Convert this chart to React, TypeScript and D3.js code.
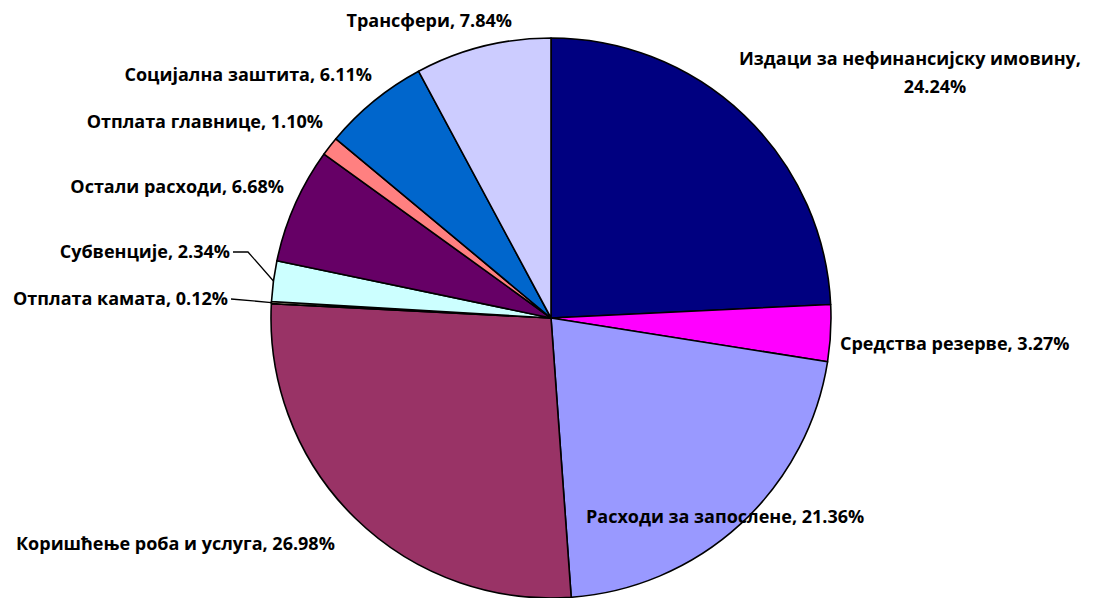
import React, { useEffect, useRef } from 'react';
import * as d3 from 'd3';

// categories clockwise from 12 o'clock
const categories = [
  'Издаци за нефинансијску имовину',
  'Средства резерве',
  'Расходи за запослене',
  'Коришћење роба и услуга',
  'Отплата камата',
  'Субвенције',
  'Остали расходи',
  'Отплата главнице',
  'Социјална заштита',
  'Трансфери',
];
const shares = [24.24, 3.27, 21.36, 26.98, 0.12, 2.34, 6.68, 1.1, 6.11, 7.84];
const colors = [
  '#000080', '#FF00FF', '#9999FF', '#993366', '#FFFFCC',
  '#CCFFFF', '#660066', '#FF8080', '#0066CC', '#CCCCFF',
];

// label placement: [x, y, anchor, leader]
const labelPos: Record<string, [number, number, string, boolean]> = {
  'Издаци за нефинансијску имовину': [910, 65, 'middle', false],
  'Средства резерве': [840, 350, 'start', false],
  'Расходи за запослене': [586, 523, 'start', false],
  'Коришћење роба и услуга': [16, 550, 'start', false],
  'Отплата камата': [228, 305, 'end', true],
  'Субвенције': [230, 258, 'end', true],
  'Остали расходи': [284, 193, 'end', false],
  'Отплата главнице': [323, 128, 'end', false],
  'Социјална заштита': [372, 81, 'end', false],
  'Трансфери': [512, 27, 'end', false],
};

const W = 1094;
const H = 598;

const App = () => {
  const svgRef = useRef<SVGSVGElement>(null);

  useEffect(() => {
    const cx = 551;
    const cy = 318;
    const r = 280;

    const svg = d3.select(svgRef.current);
    svg.selectAll('*').remove();

    const data = categories.map((c, i) => ({ name: c, value: shares[i], color: colors[i] }));
    const pie = d3.pie<any>().sort(null).value(d => d.value);
    const arcs = pie(data);
    const arc = d3.arc<any>().innerRadius(0).outerRadius(r);

    const g = svg.append('g').attr('transform', `translate(${cx},${cy})`);

    g.selectAll('path')
      .data(arcs)
      .enter().append('path')
      .attr('d', arc)
      .attr('fill', d => d.data.color)
      .attr('stroke', '#000')
      .attr('stroke-width', 1.6)
      .attr('stroke-linejoin', 'round');

    const fmt = (v: number) => v.toFixed(2) + '%';
    const labels = svg.append('g')
      .style('font-family', '"Open Sans", Lato, sans-serif')
      .style('font-weight', 'bold')
      .style('font-size', '18px')
      .attr('fill', '#000');

    arcs.forEach(a => {
      const [x, y, anchor, leader] = labelPos[a.data.name];
      if (a.data.name === 'Издаци за нефинансијску имовину') {
        labels.append('text').attr('x', x).attr('y', y).attr('text-anchor', anchor)
          .text(a.data.name + ',');
        labels.append('text').attr('x', 935).attr('y', y + 28).attr('text-anchor', anchor)
          .text(fmt(a.data.value));
      } else {
        labels.append('text').attr('x', x).attr('y', y).attr('text-anchor', anchor)
          .text(`${a.data.name}, ${fmt(a.data.value)}`);
      }
      if (leader) {
        const mid = (a.startAngle + a.endAngle) / 2;
        const px = cx + r * Math.sin(mid);
        const py = cy - r * Math.cos(mid);
        const ly = y - 6;
        const pts: [number, number][] = [[x + 3, ly], [x + 18, ly], [px, py]];
        if (Math.abs(py - ly) < 6) pts.splice(1, 1);
        svg.append('path')
          .attr('d', d3.line()(pts))
          .attr('fill', 'none')
          .attr('stroke', '#000')
          .attr('stroke-width', 1.3);
      }
    });
  }, []);

  return (
    <svg
      ref={svgRef}
      width={W}
      height={H}
      style={{ position: 'absolute', left: 0, top: 0, background: '#fff', display: 'block' }}
    />
  );
};

export default App;
